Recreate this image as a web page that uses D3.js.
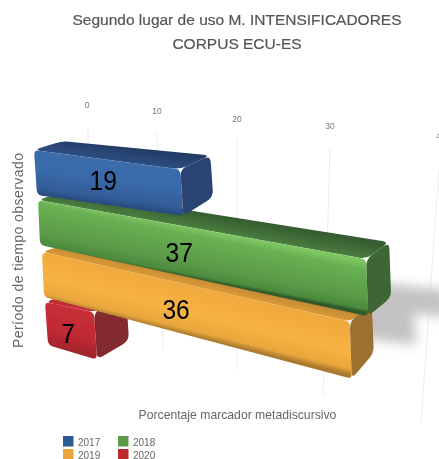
<!DOCTYPE html>
<html>
<head>
<meta charset="utf-8">
<script src="https://cdn.jsdelivr.net/npm/d3@7"></script>
<style>
  html, body { margin: 0; padding: 0; background: #fff; }
  svg { display: block; font-family: "Liberation Sans", Arial, sans-serif; }
</style>
</head>
<body>
<div id="chart"></div>
<script>
const years = ['2017', '2018', '2019', '2020']
const values = [19, 37, 36, 7]
const axisTicks = [0, 10, 20, 30, 40]
const titleLines = ['Segundo lugar de uso M. INTENSIFICADORES', 'CORPUS ECU-ES']
const xLabel = 'Porcentaje marcador metadiscursivo'
const yLabel = 'Período de tiempo observado'

const width = 439, height = 459

// perspective: the value axis gets wider to the right
const xScale = d3.scaleLinear().domain(axisTicks).range([87, 157, 237, 330, 438])
const labelX = d3.scaleLinear().domain(axisTicks).range([87, 157, 237, 330, 441])
const labelY = d3.scaleLinear().domain(axisTicks).range([108, 114, 122, 129, 139])
const gridTopX = d3.scaleLinear().domain(axisTicks).range([88, 157, 237, 330, 439])
const gridTopY = d3.scaleLinear().domain(axisTicks).range([127, 133, 140, 148, 168])
const gridBotX = d3.scaleLinear().domain(axisTicks).range([88, 163, 237, 323, 421])
const gridBotY = d3.scaleLinear().domain(axisTicks).range([330, 348, 369, 395, 423])

// front face of each bar, measured along its top and bottom edge
// depth / riseTop / riseBot: how far the far end of the bar sits from the near one
const rowLayout = [
  { x0: 34, x1: 37, yTop: 150, yBot: 195, slopeTop: 0.132, slopeBot: 0.144, k: 1.03, depth: 30, riseTop: 14, riseBot: 19 },
  { x0: 38, x1: 40, yTop: 200, yBot: 245, slopeTop: 0.18, slopeBot: 0.217, k: 1.03, depth: 23, riseTop: 17, riseBot: 19 },
  { x0: 42, x1: 44, yTop: 252, yBot: 297, slopeTop: 0.226, slopeBot: 0.266, k: 1.0, depth: 22, riseTop: 18, riseBot: 26 },
  { x0: 45, x1: 48, yTop: 302, yBot: 345, slopeTop: 0.21, slopeBot: 0.298, k: 1.0, depth: 32, riseTop: 19, riseBot: 19 }
]
const shadowLayout = [
  null,
  { dx: 58, top: 40, bot: 12 },
  { dx: 42, top: 2, bot: -16 },
  null
]
const labelNudge = [[0, -4], [-1, -1], [0, -1], [-2, 1]]
const swatch = ['#2f5a94', '#5b9a4a', '#eba53e', '#bd2a2e']
const palette = [
  { top: ['#243b66', '#2d4e82'], front: [[0, '#3b6cab'], [0.4, '#3a6aa9'], [0.8, '#345f9b'], [1, '#294a7e']], side: '#2a4473' },
  { top: ['#365c30', '#4a7d3e'], front: [[0, '#7cc662'], [0.15, '#69b052'], [0.7, '#5b9b49'], [0.94, '#4c8a3d'], [1, '#315a2b']], side: '#3c6535' },
  { top: ['#a87a30', '#dc9a38'], front: [[0, '#f0a93d'], [0.55, '#f7b340'], [0.88, '#e8a63c'], [1, '#a97a2e']], side: '#9c6f2d' },
  { top: ['#8e2329', '#c22e35'], front: [[0, '#c92f38'], [0.6, '#c02a33'], [1, '#a0242b']], side: '#82292d' }
]

function frontPoint(v, i, loc) {
  const r = rowLayout[i]
  const x0 = r.x0 + (r.x1 - r.x0) * loc
  const x = x0 + (xScale(v) - xScale(0)) * r.k
  const y0 = r.yTop + (r.yBot - r.yTop) * loc
  const slope = r.slopeTop + (r.slopeBot - r.slopeTop) * loc
  return [x, y0 + slope * (x - x0)]
}

// v is the value the front point belongs to, t runs 0..1 from the axis to the bar end
function backPoint(p, i, loc, t) {
  const r = rowLayout[i]
  const rise = r.riseTop + (r.riseBot - r.riseTop) * loc
  const dx = 28 + (r.depth - 28) * t
  const dy = 9 + (rise - 9) * t
  return [p[0] + dx, p[1] - dy]
}

// closed polygon with the corners rounded off
function roundPath(pts, r) {
  const n = pts.length
  const path = d3.path()
  pts.forEach((p, j) => {
    const prev = pts[(j + n - 1) % n], next = pts[(j + 1) % n]
    const toward = (q) => {
      const d = Math.hypot(q[0] - p[0], q[1] - p[1])
      const t = Math.min(r, d / 2) / d
      return [p[0] + (q[0] - p[0]) * t, p[1] + (q[1] - p[1]) * t]
    }
    const a = toward(prev), b = toward(next)
    if (j === 0) path.moveTo(a[0], a[1])
    else path.lineTo(a[0], a[1])
    path.quadraticCurveTo(p[0], p[1], b[0], b[1])
  })
  path.closePath()
  return path.toString()
}

const svg = d3.select('#chart').append('svg')
  .attr('width', width)
  .attr('height', height)
  .attr('viewBox', `0 0 ${width} ${height}`)

const defs = svg.append('defs')
defs.append('filter').attr('id', 'soft')
  .append('feGaussianBlur').attr('stdDeviation', 0.45)
defs.append('filter').attr('id', 'shadow')
  .attr('filterUnits', 'userSpaceOnUse')
  .attr('x', 300).attr('y', 240).attr('width', 200).attr('height', 150)
  .append('feGaussianBlur').attr('stdDeviation', 6)

// gradient running square to the bar's long edge, so the bands follow the bar
function addGradient(id, a, b, slope, stops) {
  const len = Math.hypot(slope, 1)
  const nx = -slope / len, ny = 1 / len
  const d = (b[0] - a[0]) * nx + (b[1] - a[1]) * ny
  const g = defs.append('linearGradient').attr('id', id)
    .attr('gradientUnits', 'userSpaceOnUse')
    .attr('x1', a[0]).attr('y1', a[1])
    .attr('x2', a[0] + nx * d).attr('y2', a[1] + ny * d)
  stops.forEach(s => g.append('stop').attr('offset', s[0]).attr('stop-color', s[1]))
}

const root = svg.append('g').attr('filter', 'url(#soft)')

// title
root.append('g').selectAll('text').data(titleLines).join('text')
  .attr('x', 237)
  .attr('y', (d, i) => 25 + i * 24)
  .attr('text-anchor', 'middle')
  .attr('font-size', 15.5)
  .attr('fill', '#555')
  .attr('stroke', '#555')
  .attr('stroke-width', 0.2)
  .text(d => d)

// grid and ticks
const grid = root.append('g')
grid.selectAll('line').data(axisTicks).join('line')
  .attr('x1', d => gridTopX(d))
  .attr('y1', d => gridTopY(d))
  .attr('x2', d => gridBotX(d))
  .attr('y2', d => gridBotY(d))
  .attr('stroke', '#ececec')
  .attr('stroke-width', 1)
grid.selectAll('text').data(axisTicks).join('text')
  .attr('x', d => labelX(d))
  .attr('y', d => labelY(d))
  .attr('text-anchor', 'middle')
  .attr('font-size', 8.5)
  .attr('fill', '#777')
  .text(d => d)

// shadows behind the long bars
const shadows = root.append('g').attr('filter', 'url(#shadow)')
values.forEach((v, i) => {
  const s = shadowLayout[i]
  if (!s) return
  const a = backPoint(frontPoint(v, i, 0), i, 0, 1)
  const b = backPoint(frontPoint(v, i, 1), i, 1, 1)
  shadows.append('path')
    .attr('d', d3.line()([
      [a[0] - 20, a[1] + s.top],
      [a[0] + s.dx, a[1] + s.top + 8],
      [b[0] + s.dx, b[1] + s.bot + 8],
      [b[0] - 20, b[1] + s.bot]
    ]) + 'Z')
    .attr('fill', '#c2c2c2')
})

// bars, back row first so the upper ones sit on top
const order = d3.range(values.length).reverse()
order.forEach(i => {
  const v = values[i], c = palette[i], r = rowLayout[i]
  const fl0 = frontPoint(0, i, 0), fl1 = frontPoint(0, i, 1)
  const fr0 = frontPoint(v, i, 0), fr1 = frontPoint(v, i, 1)
  const bl0 = backPoint(fl0, i, 0, 0)
  const br0 = backPoint(fr0, i, 0, 1), br1 = backPoint(fr1, i, 1, 1)
  const mid0 = frontPoint(v / 2, i, 0), mid1 = frontPoint(v / 2, i, 1)
  const midB = backPoint(mid0, i, 0, 0.5)
  const slope = (r.slopeTop + r.slopeBot) / 2

  addGradient(`front-${i}`, mid0, mid1, slope, c.front)
  addGradient(`top-${i}`, midB, mid0, r.slopeTop, [[0, c.top[0]], [1, c.top[1]]])

  const g = root.append('g').attr('class', `bar-${years[i]}`)
  g.append('path')
    .attr('d', roundPath([fl0, bl0, br0, fr0], 7))
    .attr('fill', `url(#top-${i})`)
  g.append('path')
    .attr('d', roundPath([fl0, fr0, fr1, fl1], 5))
    .attr('fill', `url(#front-${i})`)
  g.append('path')
    .attr('d', roundPath([fr0, br0, br1, fr1], 7))
    .attr('fill', c.side)
})

// value labels
root.append('g').selectAll('text').data(values).join('text')
  .attr('transform', (d, i) => {
    const p = frontPoint(d / 2, i, 0.55)
    return `translate(${p[0] - 1 + labelNudge[i][0]},${p[1] + 10 + labelNudge[i][1]}) scale(0.88,1)`
  })
  .attr('text-anchor', 'middle')
  .attr('font-size', 28)
  .attr('fill', '#000')
  .text(d => d)

// axis titles
root.append('text')
  .attr('x', 237.5)
  .attr('y', 419)
  .attr('text-anchor', 'middle')
  .attr('font-size', 12.2)
  .attr('fill', '#666')
  .text(xLabel)
root.append('text')
  .attr('transform', 'translate(23,250.5) rotate(-90)')
  .attr('text-anchor', 'middle')
  .attr('font-size', 14)
  .attr('textLength', 195)
  .attr('lengthAdjust', 'spacing')
  .attr('fill', '#666')
  .text(yLabel)

// legend
const legend = root.append('g').selectAll('g').data(years).join('g')
  .attr('transform', (d, i) => `translate(${63 + (i % 2) * 55},${436 + Math.floor(i / 2) * 13})`)
legend.append('rect')
  .attr('width', 10.5)
  .attr('height', 10.5)
  .attr('fill', (d, i) => swatch[i])
legend.append('text')
  .attr('x', 15)
  .attr('y', 9.5)
  .attr('font-size', 10)
  .attr('fill', '#666')
  .text(d => d)
</script>
</body>
</html>
